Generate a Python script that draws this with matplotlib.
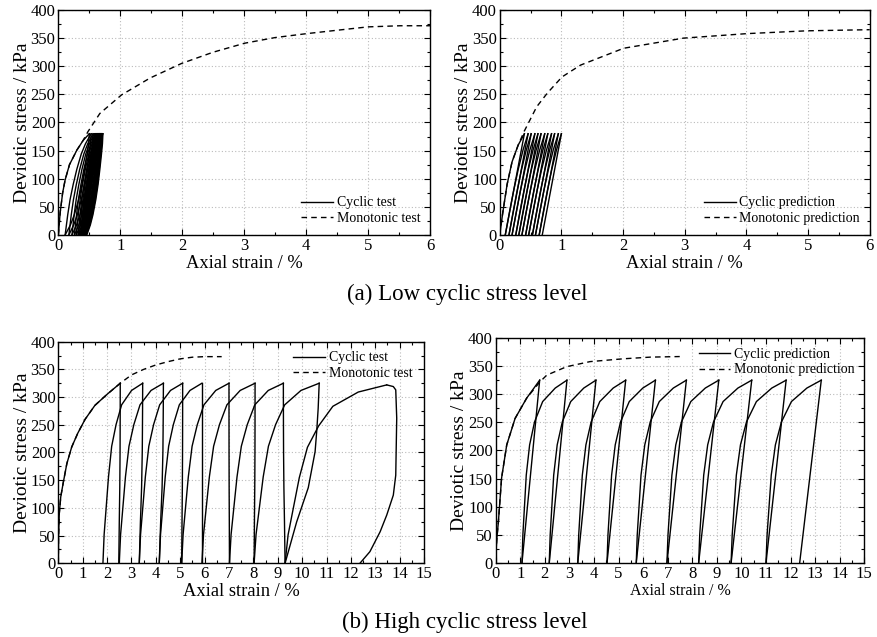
import numpy as np
import matplotlib.pyplot as plt
from matplotlib.ticker import MultipleLocator

plt.rcParams['font.family'] = ['Liberation Serif', 'DejaVu Serif']
plt.rcParams['mathtext.fontset'] = 'stix'

# ---------------- (a) low cyclic stress level ----------------
# test: first loading, then lens-shaped loops (peak 180 kPa)
a_first_x = [0, 0.03, 0.07, 0.11, 0.18, 0.30, 0.40, 0.50]
a_first_q = [0, 40, 75, 98, 125, 151, 168, 180]
a_peak = [0.50, 0.53, 0.56, 0.58, 0.60, 0.615, 0.63, 0.64, 0.65, 0.66,
          0.67, 0.675, 0.68, 0.69, 0.695, 0.70, 0.71, 0.72]
a_zero = [0.11, 0.17, 0.22, 0.26, 0.29, 0.32, 0.34, 0.36, 0.37, 0.38,
          0.39, 0.40, 0.41, 0.42, 0.43, 0.44, 0.45, 0.46]
a_qcyc = 180
a_mono_x = [0, 0.03, 0.07, 0.11, 0.18, 0.30, 0.40, 0.48, 0.67, 1.02, 1.48,
            1.99, 2.5, 3.01, 3.5, 4.01, 4.5, 5.0, 5.52, 6.0]
a_mono_q = [0, 40, 75, 98, 125, 151, 168, 184, 216, 249, 279,
            305, 325, 341, 351, 358, 364, 370, 372, 372]

# prediction: parallel loops
ap_first_x = [0, 0.05, 0.12, 0.20, 0.30, 0.40]
ap_first_q = [0, 40, 90, 130, 160, 180]
ap_peak = [0.40, 0.46, 0.51, 0.57, 0.62, 0.67, 0.73, 0.78, 0.84, 0.89, 0.95, 1.00]
ap_zero = [0.09, 0.15, 0.20, 0.26, 0.31, 0.36, 0.42, 0.47, 0.53, 0.58, 0.64, 0.69]
ap_mono_x = [0, 0.05, 0.12, 0.20, 0.30, 0.40, 0.60, 0.77, 1.01, 1.31, 2.01,
             2.98, 4.01, 4.98, 6.0]
ap_mono_q = [0, 40, 90, 130, 160, 185, 228, 252, 281, 302, 332,
             350, 358, 363, 365]

# ---------------- (b) high cyclic stress level ----------------
b_first_x = [0, 0.01, 0.04, 0.1, 0.2, 0.35, 0.55, 0.8, 1.1, 1.5, 2.0, 2.54]
b_first_q = [0, 50, 90, 120, 145, 180, 210, 235, 260, 285, 305, 325]
b_peak = [2.54, 3.46, 4.31, 5.10, 5.89, 7.00, 8.07, 9.23, 10.70, 13.47]
b_peak_q = [325, 325, 325, 325, 325, 325, 325, 325, 325, 322]
b_zero = [1.83, 2.50, 3.32, 4.14, 5.06, 5.89, 7.02, 8.03, 9.30]
b_unload_end = [2.48, 3.32, 4.14, 5.06, 5.89, 7.02, 8.03, 9.30, 9.30]
b_last_x = [13.47, 13.74, 13.84, 13.88, 13.84, 13.74, 13.47, 13.2, 12.78, 12.37]
b_last_q = [322, 319, 313, 262, 159, 123, 87, 57, 21, 0]
b_mono_x = b_first_x + [3.0, 3.5, 4.0, 4.5, 5.0, 5.5, 6.0, 6.7]
b_mono_q = b_first_q + [340, 350, 358, 364, 369, 372, 373, 373]

bp_first_x = [0, 0.02, 0.05, 0.11, 0.24, 0.45, 0.79, 1.26, 1.79]
bp_first_q = [0, 25, 45, 73, 151, 210, 257, 293, 325]
bp_peak = [1.79, 2.90, 4.08, 5.29, 6.50, 7.76, 9.08, 10.42, 11.82, 13.25]
bp_zero = [1.07, 2.18, 3.34, 4.53, 5.72, 6.97, 8.26, 9.58, 11.00, 12.37]
bp_qcyc = 325
bp_mono_x = [0, 0.02, 0.05, 0.11, 0.24, 0.45, 0.79, 1.26, 1.8, 2.08, 2.89,
             3.84, 5.19, 6.3, 7.49]
bp_mono_q = [0, 25, 45, 73, 151, 210, 257, 293, 322, 334, 349,
             358, 363, 366, 367]

# branch shapes (stress fraction -> strain fraction of the branch span)
s_a = [0, 0.1, 0.2, 0.35, 0.5, 0.65, 0.8, 0.9, 1.0]
rel_a = [0, 0.05, 0.10, 0.19, 0.31, 0.45, 0.62, 0.78, 1.0]
unl_a = [0, 0.22, 0.38, 0.56, 0.70, 0.81, 0.91, 0.97, 1.0]
s_ap = [0, 0.22, 0.44, 0.65, 0.84, 1.0]
rel_ap = [0, 0.18, 0.37, 0.57, 0.78, 1.0]
s_b = [0, 0.16, 0.48, 0.65, 0.77, 0.88, 0.96, 1.0]
rel_b = [0, 0.03, 0.14, 0.22, 0.33, 0.47, 0.72, 1.0]
s_bu = [1.0, 0.86, 0.74, 0.62, 0.42, 0.23, 0]
unl_b = [0, 0.03, 0.07, 0.12, 0.32, 0.66, 1.0]
s_bp = [0, 0.154, 0.48, 0.646, 0.772, 0.883, 0.957, 1.0]
rel_bp = [0, 0.02, 0.095, 0.17, 0.28, 0.46, 0.74, 1.0]

lw = 1.0
leg_kw = dict(frameon=False, fontsize=10, handlelength=2.3, handletextpad=0.25,
              borderpad=0.2, labelspacing=0.2)


def branch(x0, x1, qmax, s, f):
    s = np.array(s)
    f = np.array(f)
    return x0 + (x1 - x0) * f, qmax * s


def style(ax, xmax, xmaj, xmin, xlab_size=13.3):
    ax.set_xlim(0, xmax)
    ax.set_ylim(0, 400)
    ax.xaxis.set_major_locator(MultipleLocator(xmaj))
    ax.xaxis.set_minor_locator(MultipleLocator(xmin))
    ax.yaxis.set_major_locator(MultipleLocator(50))
    ax.yaxis.set_minor_locator(MultipleLocator(25))
    ax.tick_params(which='both', direction='in', top=True, right=True,
                   labelsize=12, pad=2)
    ax.tick_params(which='major', length=4, width=0.8)
    ax.tick_params(which='minor', length=2.5, width=0.8)
    ax.grid(True, which='major', linestyle=(0, (1, 2)), color='#bbbbbb', lw=0.8)
    ax.set_axisbelow(True)
    ax.set_xlabel('Axial strain / %', fontsize=xlab_size, labelpad=1)
    ax.set_ylabel('Deviotic stress / kPa', fontsize=14, labelpad=0)
    for sp in ax.spines.values():
        sp.set_linewidth(1.0)


fig = plt.figure(figsize=(8.77, 6.37), dpi=100)
ax1 = fig.add_axes([0.0665, 0.6311, 0.4238, 0.3532])
ax2 = fig.add_axes([0.5698, 0.6311, 0.4219, 0.3532])
ax3 = fig.add_axes([0.0665, 0.1157, 0.4170, 0.3479])
ax4 = fig.add_axes([0.5652, 0.1162, 0.4203, 0.3532])

# (a) test
ax1.plot(a_first_x, a_first_q, 'k-', lw=lw, label='Cyclic test')
for k in range(len(a_peak)):
    if k > 0:
        x, q = branch(a_zero[k - 1], a_peak[k], a_qcyc, s_a, rel_a)
        ax1.plot(x, q, 'k-', lw=lw)
    x, q = branch(a_zero[k], a_peak[k], a_qcyc, s_a, unl_a)
    ax1.plot(x, q, 'k-', lw=lw)
ax1.plot(a_mono_x, a_mono_q, 'k--', lw=lw, dashes=(4, 3), label='Monotonic test')
style(ax1, 6, 1, 0.5)
ax1.legend(loc='lower right', bbox_to_anchor=(1.0, 0.0), **leg_kw)

# (a) prediction
ax2.plot(ap_first_x, ap_first_q, 'k-', lw=lw, label='Cyclic prediction')
for k in range(len(ap_peak)):
    ax2.plot([ap_peak[k], ap_zero[k]], [a_qcyc, 0], 'k-', lw=lw)
    if k + 1 < len(ap_peak):
        x, q = branch(ap_zero[k], ap_peak[k + 1], a_qcyc, s_ap, rel_ap)
        ax2.plot(x, q, 'k-', lw=lw)
ax2.plot(ap_mono_x, ap_mono_q, 'k--', lw=lw, dashes=(4, 3), label='Monotonic prediction')
style(ax2, 6, 1, 0.5)
ax2.legend(loc='lower right', bbox_to_anchor=(1.0, 0.0), **leg_kw)

# (b) test
ax3.plot(b_first_x, b_first_q, 'k-', lw=lw, label='Cyclic test')
for k in range(len(b_zero)):
    x, q = branch(b_zero[k], b_peak[k + 1], b_peak_q[k + 1], s_b, rel_b)
    ax3.plot(x, q, 'k-', lw=lw)
    x, q = branch(b_peak[k], b_unload_end[k], b_peak_q[k], s_bu, unl_b)
    ax3.plot(x, q, 'k-', lw=lw)
ax3.plot(b_last_x, b_last_q, 'k-', lw=lw)
ax3.plot(b_mono_x, b_mono_q, 'k--', lw=lw, dashes=(4, 3), label='Monotonic test')
style(ax3, 15, 1, 0.5)
ax3.legend(loc='upper right', bbox_to_anchor=(0.995, 1.0), **leg_kw)

# (b) prediction
ax4.plot(bp_first_x, bp_first_q, 'k-', lw=lw, label='Cyclic prediction')
for k in range(len(bp_peak)):
    ax4.plot([bp_peak[k], bp_zero[k]], [bp_qcyc, 0], 'k-', lw=lw)
    if k + 1 < len(bp_peak):
        x, q = branch(bp_zero[k], bp_peak[k + 1], bp_qcyc, s_bp, rel_bp)
        ax4.plot(x, q, 'k-', lw=lw)
ax4.plot(bp_mono_x, bp_mono_q, 'k--', lw=lw, dashes=(4, 3), label='Monotonic prediction')
style(ax4, 15, 1, 0.5, xlab_size=11.5)
ax4.legend(loc='upper right', bbox_to_anchor=(1.0, 1.0), **leg_kw)

fig.text(467 / 877, 1 - 294 / 637, '(a) Low cyclic stress level', ha='center',
         va='center', fontsize=16.5)
fig.text(465 / 877, 1 - 622 / 637, '(b) High cyclic stress level', ha='center',
         va='center', fontsize=16.5)

fig.savefig('out.png', dpi=100)
